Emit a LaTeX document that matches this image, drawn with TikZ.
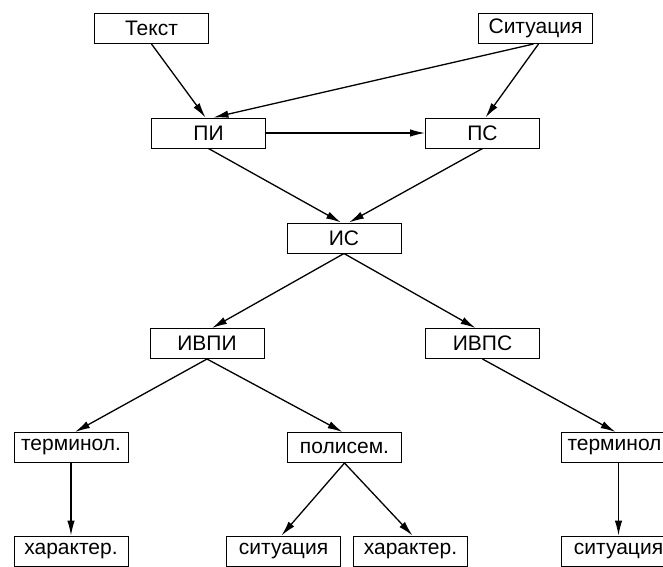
\documentclass[tikz,border=0pt]{standalone}
\usepackage{fontspec}
\setmainfont{Liberation Sans}
\usetikzlibrary{arrows.meta,positioning}

\begin{document}
\begin{tikzpicture}[x=1pt,y=1pt,on grid,auto,line width=1.3pt,>={Latex[length=15pt,width=7.5pt]},
	every node/.style={draw,line width=1pt,minimum width=114pt,minimum height=30pt,inner sep=0pt,font=\fontsize{21}{24}\selectfont}]
	\useasboundingbox (0,0) rectangle (663,-566);
	\node (tekst) at (151.5,-28.5) {Текст};
	\node (sit)  [right=384pt of tekst] {Ситуация};
	\node (pi)   [below right=104.5pt and 57pt of tekst] {ПИ};
	\node (ps)   [right=274pt of pi] {ПС};
	\node (is)   [below right=105pt and 135.5pt of pi] {ИС};
	\node (ivpi) [below left=105.5pt and 137pt of is] {ИВПИ};
	\node (ivps) [right=275.5pt of ivpi] {ИВПС};
	\node (term_1)  [below left=104pt and 136pt of ivpi] {терминол.};
	\node (polisem) [right=273.5pt of term_1] {полисем.};
	\node (term_2)  [below right=104pt and 136pt of ivps,text width=102pt,align=left] {терминол};
	\node (har_1) [below=103.5pt of term_1] {характер.};
	\node (sit_2) [below left=103.5pt and 61pt of polisem] {ситуация};
	\node (har_2) [below right=103.5pt and 66pt of polisem] {характер.};
	\node (sit_3) [below=103.5pt of term_2] {ситуация};
	\path[->]
	(tekst.south) edge ([xshift=-3pt]pi.north)
	([xshift=-2pt]sit.south) edge ([xshift=5pt]pi.north)
	([xshift=3pt]sit.south) edge ([xshift=3pt]ps.north)
	(pi) edge (ps)
	(pi.south) edge ([xshift=-3pt]is.north)
	(ps.south) edge ([xshift=5pt]is.north)
	(is.south) edge ([xshift=5pt]ivpi.north)
	(is.south) edge ([xshift=-7pt]ivps.north)
	(ivpi.south) edge ([xshift=4pt]term_1.north)
	(ivpi.south) edge ([xshift=-2pt]polisem.north)
	(ivps.south) edge ([xshift=-3pt]term_2.north)
	(term_1.south) edge (har_1.north)
	(polisem.south) edge ([xshift=-2pt]sit_2.north)
	(polisem.south) edge ([xshift=2pt]har_2.north)
	(term_2.south) edge (sit_3.north)
	;
\end{tikzpicture}
\end{document}
